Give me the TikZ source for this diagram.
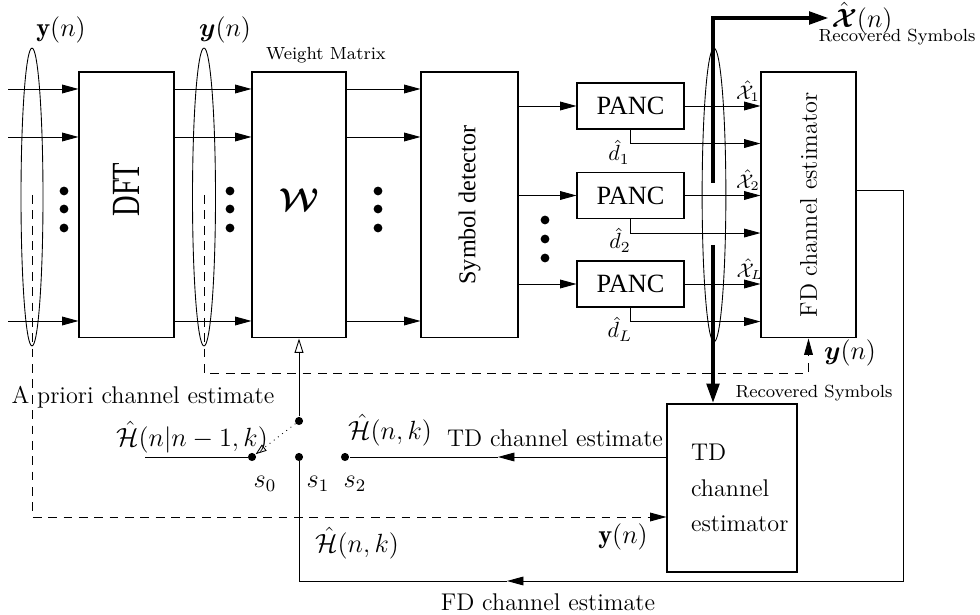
\documentclass[tikz,border=0pt]{standalone}
\usepackage{amsmath,amssymb,bm}
\usepackage{fontspec}
\newfontfamily\timesfont{Liberation Serif}
\usepackage{tikz}
\usetikzlibrary{arrows.meta,calc}

\begin{document}
\begin{tikzpicture}[
    x=0.016cm, y=-0.016cm,
    every node/.append style={inner sep=1pt,font=\fontsize{11}{13}\selectfont},
    blk/.style={draw,line width=0.5pt,minimum width=1.52cm,
                minimum height=4.256cm,inner sep=0pt},
    pancbox/.style={draw,line width=0.5pt,minimum width=1.712cm,
                minimum height=0.736cm,font=\timesfont\large},
    arr/.style={-{Triangle[length=7.5pt,width=4pt]}},
    thk/.style={line width=2pt,-{Triangle[length=9pt,width=5.5pt]}},
    dsh/.style={dash pattern=on 4pt off 3pt},
    swdot/.style={circle,fill,inner sep=0pt,minimum size=0.13cm},
  ]
  \useasboundingbox (0,0) rectangle (980,615);

  % main chain
  \node[blk] (dft) at (126.5,205)
    {\rotatebox{90}{\hspace*{14pt}\timesfont\fontsize{13}{15}\selectfont
      \scalebox{1}[1.4]{DFT}}};
  \node[blk,minimum width=1.504cm] (wm) at (299,205)
    {\raisebox{5pt}{\Large$\bm{\mathcal{W}}$}};
  \node[blk,minimum width=1.552cm] (sd) at (469.5,205)
    {\rotatebox{90}{\timesfont\fontsize{11}{13}\selectfont Symbol detector}};
  \node[blk] (fd) at (808.5,205)
    {\rotatebox{90}{\fontsize{11}{13}\selectfont FD channel estimator}};
  \node[font=\footnotesize] (wml) at (326,55) {Weight Matrix};

  \node[pancbox] (p1) at (630.5,106) {PANC};
  \node[pancbox] (p2) at (630.5,195.5) {PANC};
  \node[pancbox] (pL) at (630.5,284) {PANC};

  \node[draw,line width=0.5pt,minimum width=2.08cm,minimum height=2.688cm,
        text width=1.31cm,align=left] (td) at (732,488)
        {TD\\[3pt]channel\\[3pt]estimator};

  % input branches
  \coordinate (r1) at (8,89);
  \coordinate (r2) at (8,137);
  \coordinate (r3) at (8,321);
  \foreach \r in {r1,r2,r3}{
    \draw[arr] (\r) -- (\r -| dft.west);
    \draw[arr] (\r -| dft.east) -- (\r -| wm.west);
    \draw[arr] (\r -| wm.east) -- (\r -| sd.west);
  }
  \foreach \x in {64,230,378}
    \foreach \y in {191,209,228}
      \fill (\x,\y) circle (2pt);
  \foreach \y in {220,239,258}
    \fill (545,\y) circle (2pt);

  \draw (32,197) ellipse [x radius=0.176cm,y radius=2.384cm];
  \draw (204,197) ellipse [x radius=0.184cm,y radius=2.384cm];
  \node[font=\large] (y1) at (61,30) {$\mathbf{y}(n)$};
  \node[font=\large] (y2) at (225,30) {$\bm{y}(n)$};

  % PANC stage
  \foreach \p in {p1,p2,pL}{
    \draw[arr] (sd.east |- \p.west) -- (\p.west);
    \draw[arr] (\p.east) -- (\p.east -| fd.west);
    \draw[arr] (\p.south) |- ($(\p.south -| fd.west)+(0,14)$);
  }
  \node[font=\normalsize] (d1) at (619,152) {$\hat{d}_1$};
  \node[font=\normalsize] (d2) at (620,240) {$\hat{d}_2$};
  \node[font=\normalsize] (dL) at (620,329) {$\hat{d}_L$};
  \node[font=\small] (x1) at (748,91) {$\hat{\mathcal{X}}_1$};
  \node[font=\small] (x2) at (748,180) {$\hat{\mathcal{X}}_2$};
  \node[font=\small] (xL) at (750,269) {$\hat{\mathcal{X}}_L$};

  \draw (714,195) ellipse [x radius=0.19cm,y radius=2.35cm];
  \coordinate (tk1) at (713,183);
  \coordinate (tk2) at (713,245);
  \node[font=\large] (xh) at (862,18) {$\hat{\bm{\mathcal{X}}}(n)$};
  \draw[thk] (tk1) |- (xh.west);
  \node[font=\footnotesize] (rs1) at (897,37) {Recovered Symbols};
  \draw[thk] (tk2) -- (tk2 |- td.north);
  \node[font=\footnotesize] (rs2) at (814,393) {Recovered Symbols};

  % dashed feeds
  \coordinate (e1) at (32,195);
  \coordinate (e1b) at (32,517);
  \draw[dsh,arr] (e1) -- (e1b) -- (e1b -| td.west);
  \coordinate (e2) at (204,195);
  \coordinate (e2b) at (204,373);
  \draw[dsh,arr] (e2) -- (e2b) -- (e2b -| fd.south) -- (fd.south);
  \node[font=\large] (yfd) at (850,353) {$\bm{y}(n)$};
  \node[font=\large] (ytd) at (623,537) {$\mathbf{y}(n)$};

  % switch
  \node[swdot] (sw) at (299,421) {};
  \node[swdot] (s0) at (252,457) {};
  \node[swdot] (s1) at (299,457) {};
  \node[swdot] (s2) at (345,457) {};
  \node[font=\large] (l0) at (265,484) {$s_0$};
  \node[font=\large] (l1) at (318,484) {$s_1$};
  \node[font=\large] (l2) at (355,484) {$s_2$};
  \draw[-{Triangle[open,length=6.5pt,width=4pt]}] (sw) -- (wm.south);
  \draw[dotted,-{Triangle[open,length=5pt,width=3.5pt]}] (sw) -- (s0);
  \coordinate (hin) at (145,457);
  \draw (hin) -- (s0);
  \node (apr) at (143,397) {A priori channel estimate};
  \node[font=\large] (hpr) at (192,437) {$\hat{\mathcal{H}}(n|n-1,k)$};

  % estimates fed back
  \coordinate (tdarr) at (498,457);
  \draw[arr] (s2 -| td.west) -- (tdarr);
  \draw (tdarr) -- (s2);
  \node[font=\large] (htd) at (390,430) {$\hat{\mathcal{H}}(n,k)$};
  \node (tdl) at (555,438) {TD channel estimate};

  \coordinate (fdo) at ($(fd.east)+(0,-15)$);
  \coordinate (fb) at (903,581);
  \coordinate (fdarr) at (507,581);
  \draw[arr] (fdo) -| (fb) -- (fdarr);
  \draw (fdarr) -- (fdarr -| s1) -- (s1);
  \node[font=\large] (hfd) at (357,543) {$\hat{\mathcal{H}}(n,k)$};
  \node (fdl) at (548,602) {FD channel estimate};
\end{tikzpicture}
\end{document}
